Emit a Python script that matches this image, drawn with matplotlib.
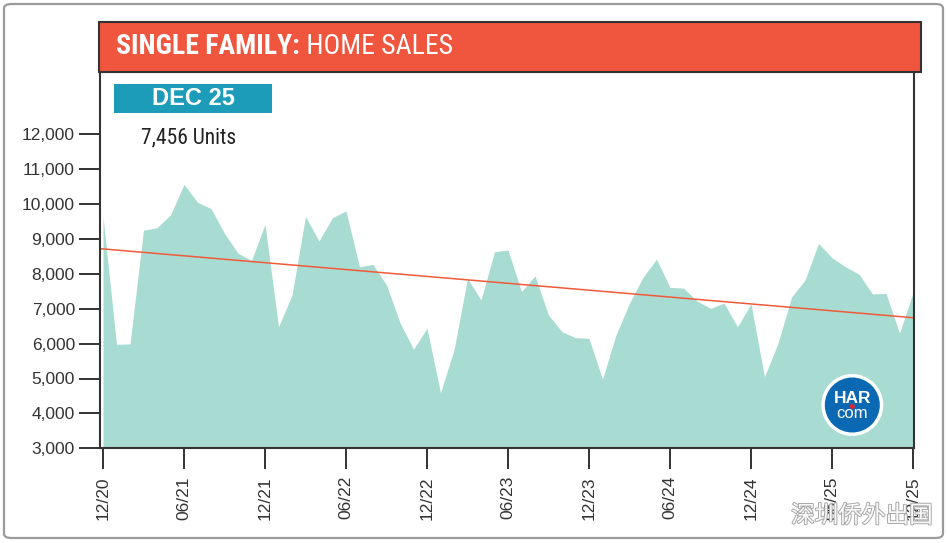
import matplotlib
matplotlib.use('Agg')
import matplotlib.pyplot as plt
import matplotlib.font_manager as fm
import matplotlib.patheffects as pe
from matplotlib.patches import Rectangle, Ellipse, FancyBboxPatch
import numpy as np
import pandas as pd

# ---------------- data ----------------
months = [d.strftime('%m/%y') for d in pd.date_range('2020-12-01', periods=61, freq='MS')]
sales = [9640, 5980, 5990, 9250, 9320, 9690, 10560, 10050, 9870, 9160, 8590, 8380,
         9420, 6480, 7390, 9640, 8940, 9610, 9800, 8200, 8270, 7680, 6600, 5840,
         6440, 4590, 5820, 7870, 7250, 8630, 8680, 7490, 7940, 6820, 6340, 6170,
         6150, 4980, 6250, 7160, 7900, 8420, 7610, 7590, 7220, 7010, 7160, 6480,
         7140, 5050, 6010, 7330, 7820, 8870, 8460, 8200, 7990, 7420, 7440, 6300,
         7456]
trend_values = [8720, 6740]          # trend line at left / right edge of plot
y_ticks = [3000, 4000, 5000, 6000, 7000, 8000, 9000, 10000, 11000, 12000]
x_tick_idx = list(range(0, 61, 6))
x_tick_labels = [months[i] for i in x_tick_idx]
title_bold = 'SINGLE FAMILY:'
title_reg = ' HOME SALES'
badge_text = 'DEC 25'
units_text = '7,456 Units'
watermark = '深圳侨外出国'

# ---------------- fonts ----------------
names = {f.name for f in fm.fontManager.ttflist}
cond = 'DejaVu Sans'
for cand in ['Roboto Condensed', 'Liberation Sans Narrow', 'Open Sans Condensed']:
    if cand in names:
        cond = cand
        break
plt.rcParams['font.family'] = ['Liberation Sans', 'DejaVu Sans']

W, H = 947, 543
fig = plt.figure(figsize=(W / 100, H / 100), dpi=100)
def fx(px): return px / W
def fy(py): return 1 - py / H

# outer frame
fig.patches.append(FancyBboxPatch((fx(4), fy(538)), fx(943) - fx(4), fy(4) - fy(538),
                                  boxstyle='round,pad=0,rounding_size=0.008',
                                  transform=fig.transFigure, facecolor='none',
                                  edgecolor='#9a9a9a', lw=1.6, zorder=-1))

# axes
ax_l, ax_r, ax_t, ax_b = 100, 914, 72.3, 448.3
ax = fig.add_axes([fx(ax_l), fy(ax_b), fx(ax_r) - fx(ax_l), fy(ax_t) - fy(ax_b)])
ax.patch.set_alpha(0)
x = np.arange(len(sales))
px_per = 13.5
ax.set_xlim((ax_l - 103) / px_per, (ax_r - 103) / px_per)
ax.set_ylim(3000, 3000 + (ax_b - ax_t) / 34.9 * 1000)
ax.fill_between(x, 3000, sales, color='#a8dbd1', lw=0, zorder=1)
xl = ax.get_xlim()
ax.plot(xl, trend_values, color='#f05a3a', lw=1.1, zorder=2)

ax.set_yticks(y_ticks)
ax.set_yticklabels([f'{v:,}' for v in y_ticks])
ax.set_xticks(x_tick_idx)
ax.set_xticklabels(x_tick_labels, rotation=90)
ax.tick_params(axis='y', direction='out', length=15, width=1.3, color='#222222',
               labelsize=12.5, labelcolor='#333333', pad=3)
ax.tick_params(axis='x', direction='out', length=15, width=1.3, color='#222222',
               labelsize=12.5, labelcolor='#333333', pad=5)
for s in ax.spines.values():
    s.set_color('#333333')
    s.set_linewidth(1.5)

# title bar
fig.patches.append(Rectangle((fx(99), fy(72.3)), fx(921) - fx(99), fy(21.7) - fy(72.3),
                             transform=fig.transFigure, facecolor='#f0553d',
                             edgecolor='#333333', lw=1.5, zorder=3))
t1 = fig.text(fx(116), fy(47), title_bold, color='white', fontsize=20, fontweight='bold',
              family=cond, va='center', ha='left', zorder=4)
fig.canvas.draw()
bb = t1.get_window_extent(fig.canvas.get_renderer())
fig.text(bb.x1 / W, fy(47), title_reg, color='white', fontsize=20, fontweight='normal',
         family=cond, va='center', ha='left', zorder=4)

# date badge
fig.patches.append(Rectangle((fx(114), fy(112.7)), fx(272) - fx(114), fy(84.3) - fy(112.7),
                             transform=fig.transFigure, facecolor='#1c9cb8',
                             edgecolor='none', zorder=3))
fig.text(fx(193), fy(98.5), badge_text, color='white', fontsize=17, fontweight='bold',
         ha='center', va='center', zorder=4)
fig.text(fx(141), fy(138), units_text, color='#222222', fontsize=15.5, family=cond,
         ha='left', va='center', zorder=4)

# HAR logo
cx, cy = 852.3, 405
fig.patches.append(Ellipse((fx(cx), fy(cy)), 2 * 31 / W, 2 * 31 / H, transform=fig.transFigure,
                           facecolor='white', edgecolor='none', zorder=5))
fig.patches.append(Ellipse((fx(cx), fy(cy)), 2 * 27.5 / W, 2 * 27.5 / H, transform=fig.transFigure,
                           facecolor='#0b68b3', edgecolor='none', zorder=6))
fig.text(fx(cx), fy(398.5), 'HAR', color='white', fontsize=12.5, fontweight='bold',
         ha='center', va='center', zorder=7)
fig.patches.append(Ellipse((fx(cx), fy(406.5)), 2 * 2.6 / W, 2 * 2.6 / H, transform=fig.transFigure,
                           facecolor='#d8283a', edgecolor='none', zorder=8))
fig.text(fx(cx), fy(414), 'com', color='white', fontsize=12, fontweight='light',
         ha='center', va='center', zorder=7)

# watermark
fig.text(fx(862), fy(516), watermark, color='#fafafa', fontsize=17,
         family=['Noto Sans CJK SC', 'DejaVu Sans'], ha='center', va='center', zorder=9,
         path_effects=[pe.withStroke(linewidth=1.4, foreground='#a8a8a8')])

fig.savefig('out.png', dpi=100)
